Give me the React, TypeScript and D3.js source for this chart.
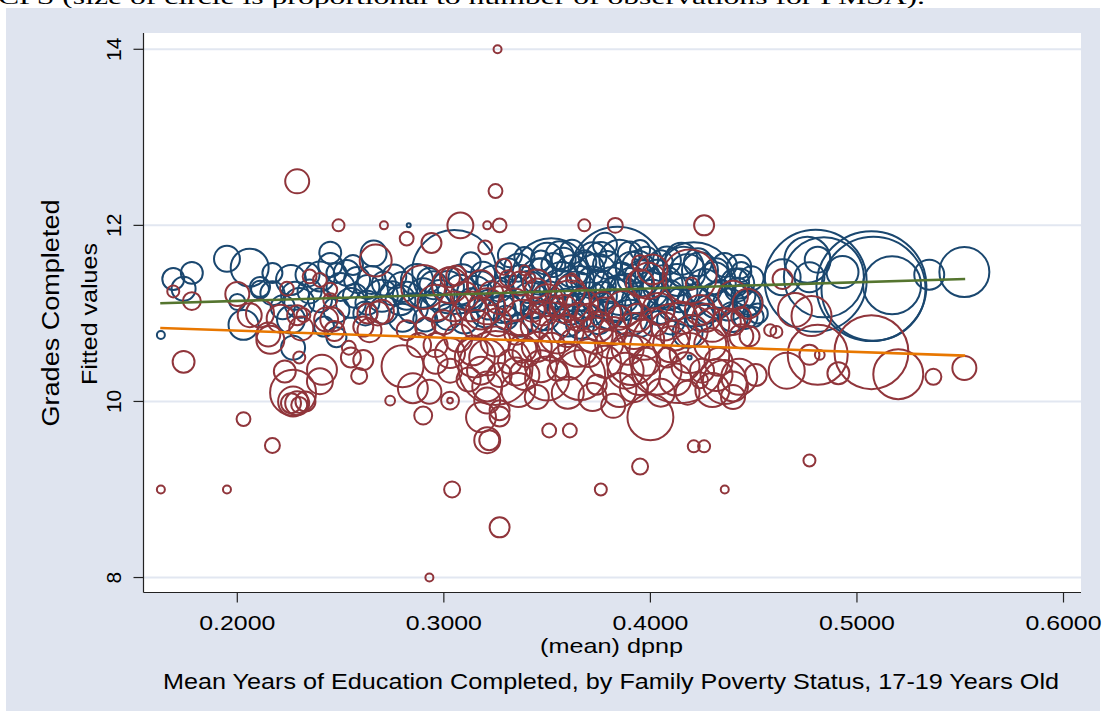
import React from "react";
import * as d3 from "d3";

// Tick values
const xTicks = [0.2, 0.3, 0.4, 0.5, 0.6];
const yTicks = [8, 10, 12, 14];

// FMSA means: [mean dpnp, mean grades completed, observations]
// Non-poor families
const nonPoor: [number, number, number][] = [
  [0.163, 10.755, 4], [0.169, 11.39, 30], [0.174, 11.28, 36], [0.178, 11.46, 30],
  [0.195, 11.62, 42], [0.206, 11.52, 90], [0.217, 11.46, 25], [0.2, 11.13, 16],
  [0.211, 11.27, 20], [0.203, 10.87, 56], [0.227, 10.61, 36], [0.245, 11.69, 30],
  [0.266, 11.68, 42], [0.283, 12.0, 1], [0.226, 11.38, 56], [0.234, 11.44, 36],
  [0.24, 11.42, 56], [0.248, 11.46, 25], [0.253, 11.46, 42], [0.258, 11.38, 42],
  [0.263, 11.3, 36], [0.271, 11.34, 36], [0.275, 11.23, 36], [0.28, 11.3, 56],
  [0.211, 11.3, 25], [0.217, 11.23, 36], [0.222, 11.07, 36], [0.23, 11.12, 56],
  [0.24, 11.15, 36], [0.248, 11.04, 42], [0.255, 11.12, 56], [0.263, 11.12, 36],
  [0.271, 11.04, 49], [0.279, 11.15, 56], [0.285, 11.06, 56], [0.29, 11.23, 56],
  [0.296, 11.07, 56], [0.302, 10.96, 42], [0.226, 10.93, 49], [0.242, 10.85, 25],
  [0.248, 10.73, 25], [0.305, 11.47, 441],
  [0.25, 11.3, 49], [0.257, 11.2, 36], [0.265, 11.38, 49], [0.27, 11.2, 64],
  [0.276, 11.42, 36], [0.282, 11.2, 49], [0.287, 11.38, 64], [0.262, 11.0, 36],
  [0.28, 10.95, 49], [0.295, 11.32, 49], [0.235, 11.25, 36], [0.228, 11.2, 49],
  [0.245, 11.55, 36], [0.256, 11.55, 25],
  [0.352, 11.41, 380], [0.384, 11.45, 552], [0.421, 11.33, 441], [0.331, 11.49, 36],
  [0.339, 11.64, 25], [0.358, 11.61, 36], [0.369, 11.49, 81], [0.376, 11.64, 56],
  [0.395, 11.72, 25], [0.394, 11.53, 64], [0.385, 11.61, 100], [0.416, 11.53, 100],
  [0.424, 11.49, 81], [0.432, 11.49, 36], [0.443, 11.53, 36], [0.443, 11.34, 56],
  [0.432, 11.15, 81], [0.44, 10.96, 56], [0.447, 11.11, 42], [0.45, 10.96, 25],
  [0.424, 10.96, 49], [0.418, 10.78, 56], [0.419, 10.5, 1],
  [0.308, 11.27, 56], [0.313, 11.15, 36], [0.318, 11.32, 49], [0.322, 11.1, 56],
  [0.327, 11.27, 36], [0.332, 11.04, 49], [0.337, 11.38, 56], [0.342, 11.15, 81],
  [0.347, 11.49, 36], [0.349, 10.98, 56], [0.356, 11.27, 100], [0.361, 11.04, 56],
  [0.366, 11.38, 49], [0.371, 11.15, 81], [0.376, 11.32, 56], [0.38, 10.98, 49],
  [0.385, 11.21, 100], [0.39, 11.38, 36], [0.395, 11.1, 56], [0.4, 11.27, 81],
  [0.405, 11.04, 49], [0.409, 11.21, 56], [0.414, 11.15, 36], [0.293, 11.38, 36],
  [0.298, 11.21, 56], [0.291, 10.93, 36], [0.31, 10.93, 49], [0.337, 10.87, 36],
  [0.366, 10.87, 49], [0.395, 10.87, 36], [0.356, 11.66, 49], [0.332, 11.66, 36],
  [0.313, 11.58, 25], [0.405, 11.58, 36], [0.378, 11.78, 36],
  [0.302, 11.3, 64], [0.309, 11.4, 49], [0.315, 11.22, 81], [0.319, 11.45, 36],
  [0.324, 11.36, 64], [0.328, 11.05, 49], [0.333, 11.2, 100], [0.336, 11.52, 49],
  [0.341, 11.3, 64], [0.344, 11.1, 49], [0.346, 11.42, 81], [0.351, 11.18, 64],
  [0.353, 11.55, 36], [0.357, 11.38, 81], [0.359, 11.12, 49], [0.362, 11.48, 64],
  [0.364, 11.25, 100], [0.368, 11.58, 36], [0.37, 11.03, 64], [0.372, 11.35, 64],
  [0.374, 11.45, 100], [0.377, 11.2, 49], [0.379, 11.55, 49], [0.381, 11.32, 81],
  [0.383, 11.08, 64], [0.386, 11.42, 49], [0.388, 11.27, 64], [0.391, 11.52, 64],
  [0.393, 11.15, 49], [0.396, 11.4, 81], [0.398, 11.62, 36], [0.401, 11.2, 64],
  [0.403, 11.45, 49], [0.406, 11.32, 100], [0.408, 11.6, 49], [0.411, 11.1, 64],
  [0.413, 11.38, 64], [0.416, 11.25, 49], [0.418, 11.47, 81], [0.421, 11.15, 64],
  [0.423, 11.58, 49], [0.426, 11.3, 81], [0.428, 11.05, 49], [0.431, 11.4, 64],
  [0.434, 11.22, 49], [0.436, 11.55, 36], [0.438, 11.1, 64], [0.441, 11.35, 49],
  [0.445, 11.2, 36], [0.449, 11.4, 36], [0.36, 10.92, 64], [0.345, 10.95, 49],
  [0.39, 10.95, 81], [0.41, 10.92, 49], [0.375, 10.9, 36], [0.33, 10.95, 36],
  [0.32, 11.0, 49], [0.35, 11.62, 64], [0.372, 11.65, 49], [0.362, 11.7, 36],
  [0.347, 11.6, 25], [0.39, 11.68, 36], [0.415, 11.62, 64],
  [0.444, 11.47, 25], [0.442, 11.27, 36], [0.448, 11.13, 42], [0.452, 11.0, 25],
  [0.446, 10.96, 36], [0.464, 11.41, 81], [0.476, 11.61, 132], [0.481, 11.61, 42],
  [0.477, 11.41, 56], [0.48, 11.37, 650], [0.484, 11.41, 400], [0.493, 11.47, 64],
  [0.507, 11.31, 756], [0.508, 11.28, 676], [0.517, 11.32, 210], [0.535, 11.44, 56],
  [0.552, 11.47, 156],
];

// Poor families
const poor: [number, number, number][] = [
  [0.326, 14.0, 4], [0.229, 12.5, 36], [0.325, 12.39, 12], [0.249, 12.0, 9],
  [0.271, 12.0, 4], [0.282, 11.85, 12], [0.294, 11.8, 25], [0.308, 12.0, 42],
  [0.321, 12.0, 4], [0.327, 12.0, 12], [0.32, 11.75, 12], [0.368, 12.0, 9],
  [0.383, 12.0, 14], [0.426, 12.0, 25], [0.267, 11.6, 64], [0.169, 11.25, 9],
  [0.178, 11.14, 20], [0.2, 11.22, 36], [0.206, 10.98, 36], [0.211, 11.0, 49],
  [0.224, 11.28, 12], [0.235, 11.42, 12], [0.24, 11.38, 12], [0.245, 11.27, 12],
  [0.245, 11.15, 12], [0.243, 10.93, 36], [0.232, 10.98, 12], [0.221, 10.94, 49],
  [0.216, 10.7, 49], [0.215, 10.76, 36], [0.174, 10.45, 30], [0.203, 9.8, 12],
  [0.217, 9.5, 14], [0.163, 9.0, 4], [0.195, 9.0, 4], [0.227, 10.1, 132],
  [0.227, 10.0, 56], [0.229, 9.98, 36], [0.233, 10.0, 25], [0.226, 9.98, 25],
  [0.23, 9.96, 16], [0.223, 10.34, 30], [0.23, 10.5, 9], [0.241, 10.36, 56],
  [0.24, 10.23, 42], [0.259, 10.29, 16], [0.261, 10.47, 25], [0.255, 10.5, 25],
  [0.254, 10.61, 12], [0.274, 10.01, 6], [0.28, 10.4, 110], [0.285, 10.15, 56],
  [0.293, 10.11, 36], [0.29, 9.84, 20], [0.288, 10.64, 36], [0.282, 10.81, 25],
  [0.291, 10.84, 25], [0.296, 10.64, 36], [0.303, 10.01, 20], [0.303, 10.01, 2],
  [0.293, 8.0, 4], [0.327, 8.57, 25], [0.304, 9.0, 16], [0.376, 9.0, 9],
  [0.436, 9.0, 4], [0.351, 9.67, 12], [0.361, 9.67, 12], [0.395, 9.26, 16],
  [0.421, 9.49, 9], [0.426, 9.49, 9], [0.4, 9.82, 132], [0.321, 9.56, 42],
  [0.322, 9.56, 25], [0.318, 9.82, 56], [0.327, 9.83, 25], [0.321, 10.01, 42],
  [0.336, 10.13, 72], [0.325, 10.38, 342], [0.315, 10.5, 100], [0.303, 10.55, 56],
  [0.314, 10.58, 56], [0.303, 10.35, 36], [0.321, 10.5, 81], [0.327, 10.3, 36],
  [0.335, 10.34, 49], [0.321, 10.17, 56], [0.327, 9.9, 25], [0.339, 10.3, 56],
  [0.35, 10.26, 121], [0.355, 10.35, 25], [0.366, 10.3, 156], [0.374, 10.19, 25],
  [0.385, 10.13, 72], [0.395, 10.3, 100], [0.403, 10.36, 156], [0.391, 10.47, 156],
  [0.408, 10.5, 25], [0.419, 10.55, 100], [0.424, 10.24, 16], [0.43, 10.13, 72],
  [0.436, 10.22, 121], [0.414, 10.55, 625], [0.316, 10.87, 56],
  [0.331, 11.4, 16], [0.342, 11.4, 6], [0.362, 11.4, 6], [0.395, 11.57, 16],
  [0.399, 11.37, 81], [0.401, 11.5, 56], [0.395, 11.34, 49], [0.419, 11.42, 182],
  [0.42, 11.34, 9], [0.303, 11.41, 25], [0.318, 11.33, 49], [0.323, 11.23, 36],
  [0.337, 11.34, 36], [0.345, 11.26, 36], [0.361, 11.26, 56], [0.361, 11.15, 100],
  [0.377, 11.11, 36], [0.343, 11.04, 36], [0.354, 11.08, 25], [0.313, 11.08, 56],
  [0.305, 11.08, 56], [0.29, 11.3, 121], [0.296, 11.12, 81], [0.303, 11.32, 81],
  [0.306, 11.43, 25], [0.321, 11.08, 81], [0.327, 11.15, 49], [0.329, 11.53, 16],
  [0.339, 11.49, 6], [0.345, 11.34, 49], [0.348, 11.0, 36], [0.263, 11.0, 25],
  [0.268, 11.0, 36], [0.261, 10.85, 25], [0.264, 10.81, 36], [0.27, 11.02, 36],
  [0.247, 10.8, 25], [0.246, 10.93, 36], [0.231, 10.83, 36], [0.229, 10.98, 25],
  [0.44, 11.2, 56], [0.447, 11.11, 56], [0.444, 10.96, 25], [0.444, 10.74, 36],
  [0.43, 10.87, 72], [0.424, 11.04, 56], [0.458, 10.81, 9], [0.47, 11.04, 72],
  [0.478, 10.97, 100], [0.466, 10.35, 81], [0.481, 10.53, 225], [0.477, 10.53, 25],
  [0.482, 10.53, 6], [0.507, 10.56, 342], [0.491, 10.32, 30], [0.52, 10.31, 156],
  [0.537, 10.28, 16], [0.552, 10.38, 36], [0.477, 9.33, 9], [0.451, 10.3, 30],
  [0.461, 10.79, 9], [0.464, 11.39, 25], [0.44, 10.89, 36], [0.443, 10.28, 81],
  [0.44, 10.17, 56], [0.44, 10.05, 36], [0.448, 10.74, 25],
  [0.365, 10.96, 49], [0.375, 10.85, 56], [0.385, 10.95, 36], [0.392, 10.8, 81],
  [0.402, 10.9, 49], [0.412, 10.75, 56], [0.355, 10.75, 81], [0.345, 10.62, 56],
  [0.365, 10.62, 100], [0.38, 10.65, 49], [0.335, 10.78, 36], [0.325, 10.68, 56],
  [0.34, 10.55, 49],
  [0.31, 11.2, 49], [0.318, 11.0, 64], [0.326, 10.9, 49], [0.334, 11.1, 64],
  [0.338, 10.95, 81], [0.344, 10.85, 49], [0.35, 11.15, 64], [0.352, 10.9, 100],
  [0.358, 11.05, 49], [0.36, 10.8, 64], [0.367, 11.1, 64], [0.37, 10.95, 49],
  [0.373, 10.75, 81], [0.378, 11.0, 64], [0.382, 10.8, 49], [0.387, 11.05, 81],
  [0.389, 10.6, 64], [0.394, 10.95, 49], [0.397, 10.7, 100], [0.404, 11.05, 64],
  [0.407, 10.85, 49], [0.41, 10.65, 81], [0.415, 10.95, 64], [0.417, 10.4, 49],
  [0.42, 10.8, 64], [0.427, 10.95, 49], [0.429, 10.65, 64], [0.433, 10.45, 49],
  [0.437, 10.9, 49], [0.432, 10.3, 64], [0.412, 10.25, 64], [0.405, 10.1, 49],
  [0.398, 10.45, 49], [0.388, 10.35, 81], [0.378, 10.45, 64], [0.37, 10.55, 49],
  [0.36, 10.45, 81], [0.352, 10.62, 49], [0.347, 10.4, 64], [0.338, 10.6, 49],
  [0.332, 10.45, 36], [0.318, 10.35, 49], [0.312, 10.25, 36], [0.307, 10.72, 49],
  [0.3, 10.9, 36], [0.296, 10.45, 36], [0.372, 10.05, 49], [0.382, 9.95, 36],
  [0.36, 10.1, 64], [0.345, 10.05, 36], [0.392, 10.15, 49], [0.418, 10.1, 36],
  [0.425, 10.35, 36],
];

// Linear fits over the observed dpnp range
const fitX = [0.1627, 0.5524];
const fitNonPoor = [11.115, 11.391];
const fitPoor = [10.834, 10.52];

const BLUE = "#1A476F";
const RED = "#90353B";
const GREEN = "#55752F";
const ORANGE = "#E87700";
const BG = "#DFE4EF";
const GRID = "#E2E7F1";

export default function App() {
  const W = 1107;
  const H = 717;
  const left = 143.5, right = 1081, top = 33, bottom = 592.5;

  const x = d3.scaleLinear().domain([0.15459, 0.60847]).range([left, right]);
  const y = d3.scaleLinear().domain([7.83, 14.185]).range([bottom, top]);
  const r = d3.scaleSqrt().domain([0, 100]).range([0, 20]);

  const line = d3
    .line<[number, number]>()
    .x((d) => x(d[0]))
    .y((d) => y(d[1]));

  const fitLine = (ys: number[]) =>
    line(fitX.map((v, i) => [v, ys[i]] as [number, number])) || "";

  const font = "'Liberation Sans', Arial, sans-serif";

  return (
    <svg
      width={W}
      height={H}
      style={{ position: "absolute", left: 0, top: 0, background: "#fff" }}
    >
      <text
        x={-2}
        y={4}
        fontFamily="'Liberation Serif', 'Times New Roman', serif"
        fontSize={21}
        fill="#000"
        textLength={927}
        lengthAdjust="spacingAndGlyphs"
      >
        CPS (size of circle is proportional to number of observations for FMSA).
      </text>
      <rect x={6} y={8} width={1094} height={703} fill={BG} />
      <rect x={left} y={top} width={right - left} height={bottom - top} fill="#fff" />

      {yTicks.map((t) => (
        <line key={t} x1={left} x2={right} y1={y(t)} y2={y(t)} stroke={GRID} strokeWidth={2} />
      ))}

      <g fill="none" strokeWidth={2}>
        {nonPoor.map((d, i) => (
          <circle key={"b" + i} cx={x(d[0])} cy={y(d[1])} r={r(d[2])} stroke={BLUE} />
        ))}
        {poor.map((d, i) => (
          <circle key={"r" + i} cx={x(d[0])} cy={y(d[1])} r={r(d[2])} stroke={RED} />
        ))}
      </g>

      <path d={fitLine(fitNonPoor)} stroke={GREEN} strokeWidth={2.6} fill="none" />
      <path d={fitLine(fitPoor)} stroke={ORANGE} strokeWidth={2.6} fill="none" />

      {/* axes */}
      <line x1={left} x2={left} y1={top} y2={bottom} stroke="#222" strokeWidth={1.2} />
      <line x1={left} x2={right} y1={bottom} y2={bottom} stroke="#222" strokeWidth={1.2} />

      {yTicks.map((t) => (
        <g key={"yt" + t}>
          <line x1={left - 10} x2={left} y1={y(t)} y2={y(t)} stroke="#222" strokeWidth={1.2} />
          <text
            transform={`translate(120.5,${y(t)}) rotate(-90)`}
            textAnchor="middle"
            fontFamily={font}
            fontSize={21}
            fill="#000"
          >
            {t}
          </text>
        </g>
      ))}

      {xTicks.map((t) => (
        <g key={"xt" + t}>
          <line x1={x(t)} x2={x(t)} y1={bottom} y2={bottom + 10} stroke="#222" strokeWidth={1.2} />
          <text
            x={x(t)}
            y={630}
            textAnchor="middle"
            fontFamily={font}
            fontSize={21}
            fill="#000"
            textLength={76}
            lengthAdjust="spacingAndGlyphs"
          >
            {t.toFixed(4)}
          </text>
        </g>
      ))}

      <text
        transform="translate(59,313) rotate(-90)"
        textAnchor="middle"
        fontFamily={font}
        fontSize={23}
        fill="#000"
        textLength={227}
        lengthAdjust="spacingAndGlyphs"
      >
        Grades Completed
      </text>
      <text
        transform="translate(97,314) rotate(-90)"
        textAnchor="middle"
        fontFamily={font}
        fontSize={22}
        fill="#000"
        textLength={142}
        lengthAdjust="spacingAndGlyphs"
      >
        Fitted values
      </text>

      <text
        x={611.5}
        y={652.5}
        textAnchor="middle"
        fontFamily={font}
        fontSize={21}
        fill="#000"
        textLength={143}
        lengthAdjust="spacingAndGlyphs"
      >
        (mean) dpnp
      </text>
      <text
        x={611}
        y={689}
        textAnchor="middle"
        fontFamily={font}
        fontSize={22}
        fill="#000"
        textLength={896}
        lengthAdjust="spacingAndGlyphs"
      >
        Mean Years of Education Completed, by Family Poverty Status, 17-19 Years Old
      </text>
    </svg>
  );
}
